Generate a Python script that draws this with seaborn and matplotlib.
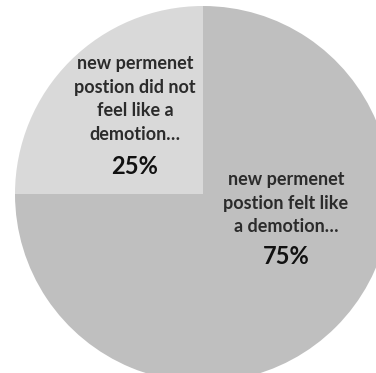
import matplotlib
matplotlib.use("Agg")
import matplotlib.pyplot as plt
import seaborn as sns

categories = ["new permenet\npostion did not\nfeel like a\ndemotion…",
              "new permenet\npostion felt like\na demotion…"]
values = [25, 75]
colors = ["#d9d9d9", "#bfbfbf"]

sns.set_theme(style="white")
plt.rcParams['font.family'] = ['Lato', 'DejaVu Sans']

fig = plt.figure(figsize=(3.76, 3.73), dpi=100)
fig.patch.set_facecolor("white")
ax = fig.add_axes([0, 0, 1, 1])
ax.pie(values, colors=colors, startangle=90, counterclock=True,
       wedgeprops=dict(linewidth=0), radius=1.0, center=(0, 0))
ax.set_aspect("auto")
ax.set_xlim(-203 / 188, (376 - 203) / 188)
ax.set_ylim(-(373 - 194) / 188, 194 / 188)
ax.axis("off")

total = sum(values)
label_pos = [((135 - 203) / 188, (194 - 99) / 188), ((286 - 203) / 188, (194 - 203) / 188)]
pct_pos = [((135 - 203) / 188, (194 - 166) / 188), ((286 - 203) / 188, (194 - 257) / 188)]
for cat, v, (lx, ly), (px, py) in zip(categories, values, label_pos, pct_pos):
    ax.text(lx, ly, cat, ha="center", va="center", fontsize=13, fontweight="bold",
            color="#2b2b2b", linespacing=1.48)
    ax.text(px, py, f"{v / total:.0%}", ha="center", va="center", fontsize=17,
            fontweight="bold", color="#111111")

fig.savefig("out.png", dpi=100, facecolor="white")
